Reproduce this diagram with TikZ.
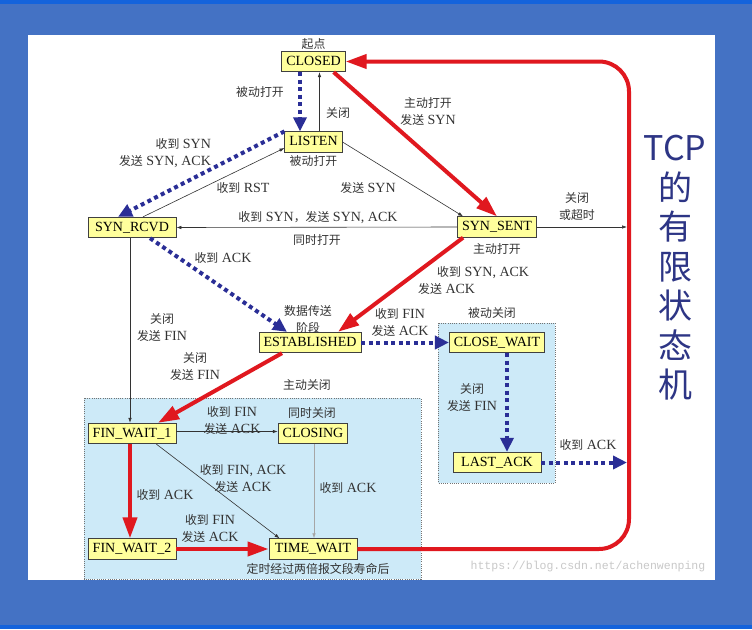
\documentclass[tikz,border=0pt]{standalone}
\usepackage{fontspec}
\setmainfont{Liberation Serif}
\newfontfamily\cjk[Scale=0.85]{Noto Sans CJK SC}
\newfontfamily\titlefont{Noto Sans CJK SC}
\newfontfamily\urlfont{Liberation Mono}
\newcommand{\zh}[1]{{\cjk #1}}
\usetikzlibrary{arrows.meta,positioning}
\definecolor{BgBlue}{HTML}{4472C4}
\definecolor{StripeBlue}{HTML}{1463DC}
\definecolor{RegionBlue}{HTML}{CDEAF8}
\definecolor{StateYellow}{HTML}{FFFF9C}
\definecolor{FlowRed}{HTML}{E0181F}
\definecolor{FlowBlue}{HTML}{2A2E96}
\definecolor{LabelGray}{HTML}{333333}
\definecolor{TitleNavy}{HTML}{2D3585}
\definecolor{UrlGray}{HTML}{C8C8C8}
\tikzset{
  statebox/.style={draw=black!75,fill=StateYellow,line width=0.8pt,font=\fontsize{14}{16}\selectfont,inner xsep=4.5pt,inner ysep=0pt,minimum height=20.5pt,text height=10pt,text depth=3pt},
  widebox/.style={statebox,minimum width=88pt},
  lbl/.style={font=\fontsize{14}{17}\selectfont,text=LabelGray,align=center,inner sep=0pt},
  regionbox/.style={draw=black!55,fill=RegionBlue,line width=0.8pt,dash pattern=on 1pt off 1.2pt},
  redarrow/.style={-{Triangle[length=21pt,width=14pt]},line width=4pt,draw=FlowRed},
  dotarrow/.style={-{Triangle[length=14pt,width=13pt]},line width=4pt,draw=FlowBlue,dash pattern=on 4pt off 3.5pt},
  thinarrow/.style={-{Latex[length=5pt,width=3.5pt]},line width=0.6pt,draw=black!80}
}

\begin{document}
\begin{tikzpicture}[x=1pt,y=-1pt]
\useasboundingbox (0,0) rectangle (752,629);
% frame and panel
\fill[BgBlue] (0,0) rectangle (752,629);
\fill[StripeBlue] (0,0) rectangle (752,4);
\fill[StripeBlue] (0,625) rectangle (752,629);
\fill[white] (28,35) rectangle (715,580);
\draw[regionbox] (84,398) rectangle (421,579);
\draw[regionbox] (438,323) rectangle (555,483);

% states
\node[statebox] (closed) at (313.5,61.5) {CLOSED};
\node[statebox] (listen) at (313.5,142) {LISTEN};
\node[widebox] (synrcvd) at (132,227.5) {SYN\_RCVD};
\node[statebox] (synsent) at (497,227) {SYN\_SENT};
\node[statebox] (established) at (310,342.5) {ESTABLISHED};
\node[statebox] (closewait) at (497,342.5) {CLOSE\_WAIT};
\node[widebox] (lastack) at (497,462.5) {LAST\_ACK};
\node[widebox] (finwaitA) at (132,433.5) {FIN\_WAIT\_1};
\node[statebox] (closing) at (313,433.5) {CLOSING};
\node[widebox] (finwaitB) at (132,549) {FIN\_WAIT\_2};
\node[widebox] (timewait) at (313,549) {TIME\_WAIT};

\coordinate (synexit) at (627,227);
\coordinate (ackexit) at (627,462.5);
\coordinate (loopbot) at (629,549);
\coordinate (looptop) at (629,61.5);

% transitions
\draw[redarrow,rounded corners=30pt] (timewait.east) -- (loopbot) -- (looptop) -- (closed.east);
\draw[dotarrow] ([xshift=-13.5pt]closed.south) -- ([xshift=-13.5pt]listen.north);
\draw[thinarrow] ([xshift=6pt]listen.north) -- ([xshift=6pt]closed.south);
\draw[redarrow] ([xshift=-12pt]closed.south east) -- (synsent.north);
\draw[thinarrow] (listen.east) -- ([xshift=6pt]synsent.north west);
\draw[dotarrow] (listen.north west) -- ([xshift=-14pt]synrcvd.north);
\draw[thinarrow] ([xshift=11pt]synrcvd.north) -- ([yshift=-6pt]listen.west);
\draw[thinarrow] (synsent.west) -- (synrcvd.east);
\draw[thinarrow] (synsent.east) -- (synexit);
\draw[dotarrow] ([xshift=18pt]synrcvd.south) -- ([xshift=-23pt]established.north);
\draw[redarrow] ([xshift=6pt]synsent.south west) -- ([xshift=28pt]established.north);
\draw[dotarrow] (established.east) -- (closewait.west);
\draw[dotarrow] ([xshift=10pt]closewait.south) -- ([xshift=10pt]lastack.north);
\draw[dotarrow] (lastack.east) -- (ackexit);
\draw[redarrow] ([xshift=-28pt]established.south) -- ([xshift=26pt]finwaitA.north);
\draw[thinarrow] ([xshift=-2pt]synrcvd.south) -- ([xshift=-2pt]finwaitA.north);
\draw[redarrow] ([xshift=-2pt]finwaitA.south) -- ([xshift=-2pt]finwaitB.north);
\draw[thinarrow] ([yshift=2pt]finwaitA.east) -- ([yshift=2pt]closing.west);
\draw[thinarrow] ([xshift=-20pt]finwaitA.south east) -- ([xshift=11pt]timewait.north west);
\draw[thinarrow,draw=black!35] ([xshift=1pt]closing.south) -- ([xshift=1pt]timewait.north);
\draw[redarrow] (finwaitB.east) -- (timewait.west);

% labels
\node[lbl,above=1pt of closed] (startlbl) {\zh{起点}};
\node[lbl] (passopen) at (260,92) {\zh{被动打开}};
\node[lbl] (closeA) at (338,113) {\zh{关闭}};
\node[lbl] (actopen) at (428,111) {\zh{主动打开}\\\zh{发送} SYN};
\node[lbl,align=right] (rcvsyn) at (165,153) {\zh{收到} SYN\\\zh{发送} SYN, ACK};
\node[lbl,below=3pt of listen] (passopenB) {\zh{被动打开}};
\node[lbl] (rst) at (243,188) {\zh{收到} RST};
\node[lbl] (sendsyn) at (368,188) {\zh{发送} SYN};
\node[lbl] (timeout) at (577,207) {\zh{关闭}\\\zh{或超时}};
\node[lbl] (simsyn) at (318,218) {\zh{收到} SYN\zh{，发送} SYN, ACK};
\node[lbl] (simopen) at (317,240) {\zh{同时打开}};
\node[lbl,below=6pt of synsent] (actopenB) {\zh{主动打开}};
\node[lbl] (ackA) at (223,258) {\zh{收到} ACK};
\node[lbl,align=left,anchor=west] (synack) at (418,280) {\hspace*{19pt}\zh{收到} SYN, ACK\\\zh{发送} ACK};
\node[lbl] (datastage) at (308,319) {\zh{数据传送}\\\zh{阶段}};
\node[lbl] (finackA) at (400,322) {\zh{收到} FIN\\\zh{发送} ACK};
\node[lbl] (passclose) at (492,313) {\zh{被动关闭}};
\node[lbl] (closefinA) at (162,328) {\zh{关闭}\\\zh{发送} FIN};
\node[lbl] (closefinB) at (195,367) {\zh{关闭}\\\zh{发送} FIN};
\node[lbl] (actclose) at (307,385) {\zh{主动关闭}};
\node[lbl] (closefinC) at (472,398) {\zh{关闭}\\\zh{发送} FIN};
\node[lbl] (finackB) at (232,420) {\zh{收到} FIN\\\zh{发送} ACK};
\node[lbl] (simclose) at (312,413) {\zh{同时关闭}};
\node[lbl] (ackB) at (588,445) {\zh{收到} ACK};
\node[lbl] (finackC) at (243,478) {\zh{收到} FIN, ACK\\\zh{发送} ACK};
\node[lbl] (ackC) at (165,495) {\zh{收到} ACK};
\node[lbl] (ackD) at (348,488) {\zh{收到} ACK};
\node[lbl] (finackD) at (210,528) {\zh{收到} FIN\\\zh{发送} ACK};
\node[lbl] (msl) at (318,569) {\zh{定时经过两倍报文段寿命后}};
\node[font=\urlfont\fontsize{11.5}{12}\selectfont,text=UrlGray,inner sep=0pt] (url) at (588,567) {https://blog.csdn.net/achenwenping};

% title
\node[font=\titlefont\fontsize{34}{39.5}\selectfont,text=TitleNavy,align=center] (title) at (675,268) {TCP\\的\\有\\限\\状\\态\\机};
\end{tikzpicture}
\end{document}
